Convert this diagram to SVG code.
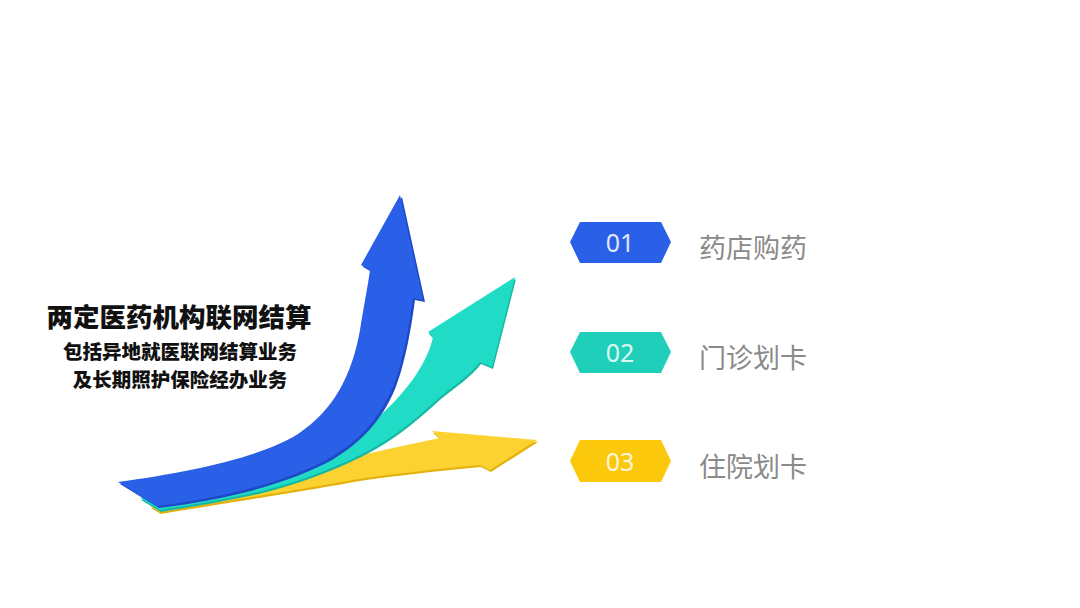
<svg xmlns="http://www.w3.org/2000/svg" width="1080" height="608" viewBox="0 0 1080 608">
<style>
.title{font-family:"Noto Sans CJK SC","Noto Sans",sans-serif;font-weight:900;fill:#111;text-anchor:middle}
.num{font-family:"Noto Sans","Liberation Sans",sans-serif;font-size:25px;text-anchor:middle;dominant-baseline:central;opacity:0.85;fill:#fff}
.lbl{font-family:"Noto Sans CJK SC","Noto Sans",sans-serif;font-size:27px;fill:#8a8a8a;dominant-baseline:central}
</style>
<rect width="1080" height="608" fill="#ffffff"/>
<g id="arrows">
  <g id="arrow-yellow">
    <path d="M150,506 C230,490 320,462 440,438 L432,431 L537,440 L490,470 L480,465 C430,470 390,474 353,480 C310,488 220,502 160,512 Z" fill="#e3b10c" transform="translate(1,2)"/>
    <path d="M150,506 C230,490 320,462 440,438 L432,431 L537,440 L490,470 L480,465 C430,470 390,474 353,480 C310,488 220,502 160,512 Z" fill="#fbd22f"/>
  </g>
  <g id="arrow-teal">
    <path d="M140,498 C250,490 330,460 375,420 C410,390 428,360 433,337 L428,332 L515,277 L492,367 L480,362 C470,375 455,385 440,397 C420,415 400,433 375,447 C340,467 290,485 253,493 C220,500 190,505 160,510 Z" fill="#16b7a3" transform="translate(1,2)"/>
    <path d="M140,498 C250,490 330,460 375,420 C410,390 428,360 433,337 L428,332 L515,277 L492,367 L480,362 C470,375 455,385 440,397 C420,415 400,433 375,447 C340,467 290,485 253,493 C220,500 190,505 160,510 Z" fill="#20dcc6"/>
  </g>
  <g id="arrow-blue">
    <path d="M118,482 C190,472 262,457 298,434 C334,410 352,375 360,330 C364,305 368,285 370,270 L361,265 L400,195 L423,300 L413,298 C410,320 404,360 393,387 C380,418 360,440 330,458 C290,480 230,497 157,506 Z" fill="#1f48c4" transform="translate(2,2)"/>
    <path d="M118,482 C190,472 262,457 298,434 C334,410 352,375 360,330 C364,305 368,285 370,270 L361,265 L400,195 L423,300 L413,298 C410,320 404,360 393,387 C380,418 360,440 330,458 C290,480 230,497 157,506 Z" fill="#2a5fe8"/>
  </g>
</g>
<g id="title">
  <text class="title" x="179" y="327" font-size="26.5">两定医药机构联网结算</text>
  <text class="title" x="180" y="359" font-size="19.5">包括异地就医联网结算业务</text>
  <text class="title" x="180" y="387" font-size="19.5">及长期照护保险经办业务</text>
</g>
<g id="item1">
  <polygon points="570,242 580,222 661,222 671,242 661,263 580,263" fill="#2a5fe8"/>
  <text class="num" x="620" y="242">01</text>
  <text class="lbl" x="699" y="246">药店购药</text>
</g>
<g id="item2">
  <polygon points="570,352 580,332 661,332 671,352 661,373 580,373" fill="#1fcfba"/>
  <text class="num" x="620" y="352">02</text>
  <text class="lbl" x="699" y="356">门诊划卡</text>
</g>
<g id="item3">
  <polygon points="570,461 580,440 661,440 671,461 661,482 580,482" fill="#fbc80c"/>
  <text class="num" x="620" y="461">03</text>
  <text class="lbl" x="699" y="465">住院划卡</text>
</g>
</svg>
